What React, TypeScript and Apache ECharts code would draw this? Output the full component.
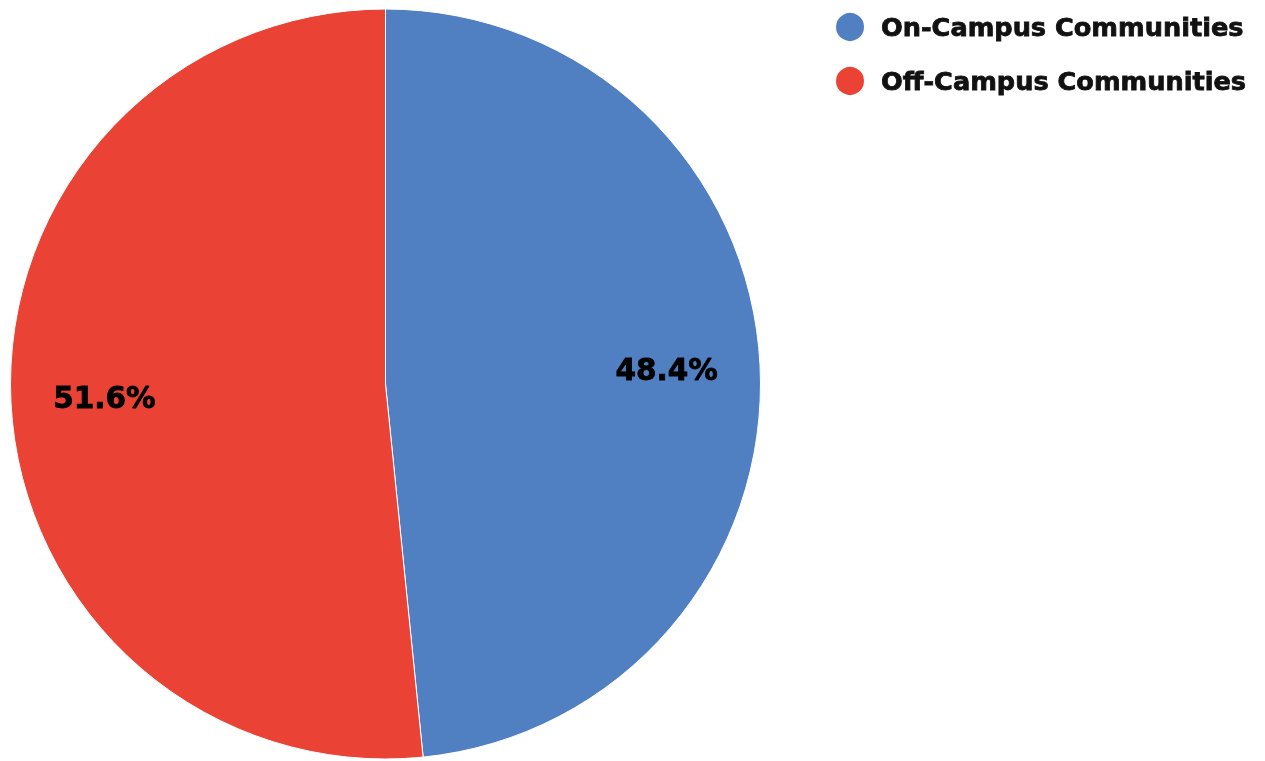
import React, { useEffect, useRef } from "react";
import * as echarts from "echarts";

const categories = ["On-Campus Communities", "Off-Campus Communities"];
const values = [48.4, 51.6];
const colors = ["#5180C2", "#EA4335"];

export default function App() {
  const ref = useRef<HTMLDivElement>(null);
  useEffect(() => {
    if (!ref.current) return;
    const chart = echarts.init(ref.current, undefined, { renderer: "svg" });
    const data = categories.map((name, i) => ({
      name,
      value: values[i],
      itemStyle: { color: colors[i] },
    }));
    chart.setOption({
      animation: false,
      legend: {
        orient: "vertical",
        left: 834,
        top: 11,
        padding: 0,
        itemWidth: 30,
        itemHeight: 30,
        itemGap: 22,
        icon: "circle",
        data: categories,
        textStyle: {
          fontFamily: "DejaVu Sans",
          fontWeight: "bold",
          fontSize: 25.6,
          lineHeight: 30,
          color: "#111",
          textBorderColor: "#111",
          textBorderWidth: 0.8,
          padding: [0, 0, 0, 11],
        },
      },
      series: [
        {
          type: "pie",
          center: [385.5, 384],
          radius: [0, 375],
          startAngle: 90,
          clockwise: true,
          silent: true,
          label: { show: false },
          labelLine: { show: false },
          itemStyle: { borderColor: "#ffffff", borderWidth: 1 },
          data,
        },
        {
          type: "pie",
          center: [385.5, 384],
          radius: [182, 375],
          startAngle: 90,
          clockwise: true,
          silent: true,
          legendHoverLink: false,
          itemStyle: { color: "transparent", opacity: 0 },
          label: {
            show: true,
            position: "inside",
            formatter: (p: any) => p.value.toFixed(1) + "%",
            fontFamily: "DejaVu Sans",
            fontWeight: "bold",
            fontSize: 29.5,
            color: "#000",
            textBorderColor: "#000",
            textBorderWidth: 0.8,
            opacity: 1,
          },
          labelLine: { show: false },
          data: categories.map((name, i) => ({
            name: name + " ",
            value: values[i],
            itemStyle: { color: "transparent" },
          })),
        },
      ],
    });
    return () => chart.dispose();
  }, []);
  return (
    <div
      ref={ref}
      style={{ position: "fixed", left: 0, top: 0, width: 1265, height: 761 }}
    />
  );
}
